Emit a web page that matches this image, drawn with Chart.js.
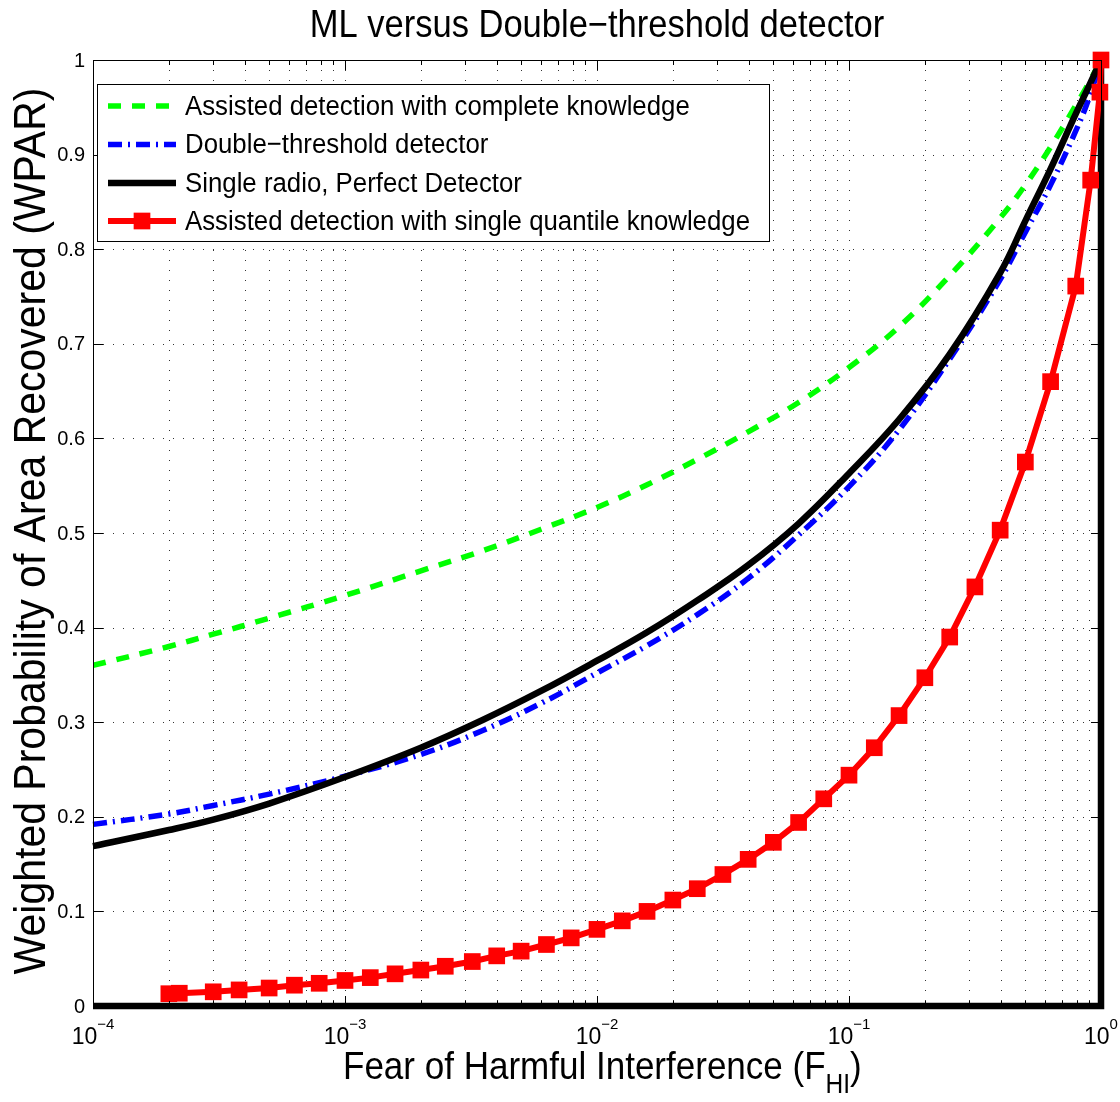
<!DOCTYPE html>
<html>
<head>
<meta charset="utf-8">
<title>ML versus Double-threshold detector</title>
<script src="https://cdn.jsdelivr.net/npm/chart.js@4.4.1/dist/chart.umd.min.js"></script>
<style>
  html, body { margin: 0; padding: 0; background: #fff; }
  canvas { display: block; }
</style>
</head>
<body>
<canvas id="wpar" width="1120" height="1102"></canvas>
<script>
// ---- values ----
var titleText = "ML versus Double\u2212threshold detector";
var xTitleMain = "Fear of Harmful Interference (F";
var xTitleSub = "HI";
var xTitleEnd = ")";
var yTitleText = "Weighted Probability of Area Recovered (WPAR)";

var seriesNames = [
  "Assisted detection with complete knowledge",
  "Double\u2212threshold detector",
  "Single radio, Perfect Detector",
  "Assisted detection with single quantile knowledge"
];

var xTickValues = [1e-4, 1e-3, 1e-2, 1e-1, 1];
var xTickExp = ["\u22124", "\u22123", "\u22122", "\u22121", "0"];
var yTickValues = [0, 0.1, 0.2, 0.3, 0.4, 0.5, 0.6, 0.7, 0.8, 0.9, 1];
var yTickLabels = ["0", "0.1", "0.2", "0.3", "0.4", "0.5", "0.6", "0.7", "0.8", "0.9", "1"];

// F_HI values where the smooth curves were read
var curveF = [1e-4, 2e-4, 3e-4, 5e-4, 1e-3, 2e-3, 3.5e-3, 6e-3, 1e-2, 0.0158, 0.0251,
              0.0398, 0.0631, 0.1, 0.158, 0.251, 0.398, 0.501, 0.631, 0.794, 0.891, 1];
var completeWPAR = [0.360, 0.380, 0.393, 0.410, 0.434, 0.460, 0.481, 0.504, 0.527, 0.551, 0.578,
                    0.607, 0.638, 0.675, 0.718, 0.772, 0.833, 0.868, 0.908, 0.952, 0.975, 1.0];
var doubleWPAR   = [0.192, 0.203, 0.212, 0.224, 0.243, 0.266, 0.291, 0.320, 0.352, 0.381, 0.414,
                    0.452, 0.498, 0.549, 0.609, 0.684, 0.768, 0.818, 0.868, 0.925, 0.958, 1.0];
var singleWPAR   = [0.169, 0.186, 0.197, 0.214, 0.242, 0.273, 0.302, 0.333, 0.365, 0.395, 0.429,
                    0.466, 0.510, 0.563, 0.620, 0.689, 0.775, 0.830, 0.885, 0.943, 0.971, 1.0];
// the double-threshold and single-radio curves drop down at F=1 and run back along zero
var tailF = [1, 1, 1e-4];
var tailWPAR = [1, 0, 0];

var quantileF = [2e-4, 2.2e-4, 3e-4, 3.8e-4, 5e-4, 6.3e-4, 7.9e-4, 1e-3, 1.26e-3, 1.58e-3, 2e-3, 2.5e-3,
                 3.2e-3, 4e-3, 5e-3, 6.3e-3, 7.9e-3, 1e-2, 1.26e-2, 1.58e-2, 2e-2, 2.5e-2, 3.16e-2, 3.98e-2,
                 5.01e-2, 6.31e-2, 7.94e-2, 0.1, 0.126, 0.158, 0.2, 0.251, 0.316, 0.398, 0.501, 0.631,
                 0.794, 0.91, 0.99, 1.0];
var quantileWPAR = [0.013, 0.0135, 0.015, 0.017, 0.019, 0.022, 0.024, 0.027, 0.030, 0.034, 0.038, 0.042,
                    0.047, 0.053, 0.058, 0.065, 0.072, 0.081, 0.090, 0.100, 0.112, 0.124, 0.139, 0.155,
                    0.173, 0.194, 0.219, 0.244, 0.273, 0.307, 0.347, 0.390, 0.443, 0.503, 0.575, 0.660,
                    0.761, 0.873, 0.966, 1.0];

var FONT = "'Liberation Sans', Arial, Helvetica, sans-serif";
var STRETCH = 1.1; // MATLAB's Helvetica renders a bit taller than Liberation Sans

function pts(xs, ys) {
  return xs.map(function (x, i) { return { x: x, y: ys[i] }; });
}

function fitSize(ctx, text, target) {
  ctx.font = "100px " + FONT;
  return 100 * target / ctx.measureText(text).width;
}

function tallText(ctx, text, x, y) {
  ctx.save();
  ctx.translate(x, y);
  ctx.scale(1, STRETCH);
  ctx.fillText(text, 0, 0);
  ctx.restore();
}

function hline(ctx, x1, x2, y) { ctx.beginPath(); ctx.moveTo(x1, y); ctx.lineTo(x2, y); ctx.stroke(); }
function vline(ctx, x, y1, y2) { ctx.beginPath(); ctx.moveTo(x, y1); ctx.lineTo(x, y2); ctx.stroke(); }

// grid positions on the log axis: 1..9 times each decade
function logGridValues() {
  var out = [];
  for (var e = -4; e < 0; e++) {
    for (var m = 1; m <= 9; m++) out.push(m * Math.pow(10, e));
  }
  out.push(1);
  return out;
}

// MATLAB-like frame: dotted grid, boxed axes with inward ticks, labels and legend
var matlabFrame = {
  id: "matlabFrame",
  beforeDatasetsDraw: function (chart) {
    var ctx = chart.ctx, a = chart.chartArea, xs = chart.scales.x, ys = chart.scales.y;
    ctx.save();
    ctx.strokeStyle = "rgba(30,30,30,0.9)";
    ctx.lineWidth = 1;
    ctx.setLineDash([1, 9]);
    logGridValues().forEach(function (v) {
      var px = Math.round(xs.getPixelForValue(v)) + 0.5;
      vline(ctx, px, a.top, a.bottom);
    });
    yTickValues.forEach(function (v) {
      var py = Math.round(ys.getPixelForValue(v)) + 0.5;
      hline(ctx, a.left, a.right, py);
    });
    ctx.restore();
  },
  afterDatasetsDraw: function (chart) {
    var ctx = chart.ctx, a = chart.chartArea, xs = chart.scales.x, ys = chart.scales.y;
    ctx.save();
    ctx.setLineDash([]);
    ctx.strokeStyle = "#000";
    ctx.lineWidth = 1;
    ctx.strokeRect(Math.round(a.left) + 0.5, Math.round(a.top) + 0.5,
                   Math.round(a.right - a.left), Math.round(a.bottom - a.top));

    // ticks on all four sides, pointing in
    logGridValues().forEach(function (v) {
      var px = Math.round(xs.getPixelForValue(v)) + 0.5;
      var major = xTickValues.indexOf(v) >= 0;
      var len = major ? 10 : 5;
      vline(ctx, px, a.bottom, a.bottom - len);
      vline(ctx, px, a.top, a.top + len);
    });
    yTickValues.forEach(function (v) {
      var py = Math.round(ys.getPixelForValue(v)) + 0.5;
      hline(ctx, a.left, a.left + 10, py);
      hline(ctx, a.right, a.right - 10, py);
    });

    ctx.fillStyle = "#000";
    // y tick labels
    ctx.font = "20px " + FONT;
    ctx.textAlign = "right";
    ctx.textBaseline = "middle";
    yTickValues.forEach(function (v, i) {
      ctx.fillText(yTickLabels[i], a.left - 8, ys.getPixelForValue(v) + 1);
    });

    // x tick labels: 10 with a superscript exponent
    ctx.textAlign = "left";
    ctx.textBaseline = "alphabetic";
    xTickValues.forEach(function (v, i) {
      var px = xs.getPixelForValue(v);
      ctx.font = "23px " + FONT;
      var wb = ctx.measureText("10").width;
      ctx.font = "15px " + FONT;
      var we = ctx.measureText(xTickExp[i]).width;
      var x0 = px - (wb + we) / 2;
      ctx.font = "23px " + FONT;
      ctx.fillText("10", x0, 1044);
      ctx.font = "15px " + FONT;
      ctx.fillText(xTickExp[i], x0 + wb, 1029);
    });

    // title
    var ts = fitSize(ctx, titleText, 575);
    ctx.font = ts + "px " + FONT;
    ctx.textAlign = "center";
    tallText(ctx, titleText, (a.left + a.right) / 2, 37);

    // x axis title with subscript
    ctx.textAlign = "left";
    ctx.font = "100px " + FONT;
    var wMain = ctx.measureText(xTitleMain).width + ctx.measureText(xTitleEnd).width;
    ctx.font = "70px " + FONT;
    var wSub = ctx.measureText(xTitleSub).width;
    var xsz = 100 * 519 / (wMain + wSub);
    ctx.font = xsz + "px " + FONT;
    var cx = 343;
    tallText(ctx, xTitleMain, cx, 1079);
    cx += ctx.measureText(xTitleMain).width;
    ctx.font = (xsz * 0.7) + "px " + FONT;
    tallText(ctx, xTitleSub, cx, 1093);
    cx += ctx.measureText(xTitleSub).width;
    ctx.font = xsz + "px " + FONT;
    tallText(ctx, xTitleEnd, cx, 1079);

    // y axis title
    var ysz = fitSize(ctx, yTitleText, 887);
    ctx.save();
    ctx.translate(45, 531);
    ctx.rotate(-Math.PI / 2);
    ctx.font = ysz + "px " + FONT;
    ctx.textAlign = "center";
    tallText(ctx, yTitleText, 0, 0);
    ctx.restore();

    // legend
    var lx = 97.5, ly = 84.5, lw = 672, lh = 157;
    ctx.fillStyle = "#fff";
    ctx.fillRect(lx, ly, lw, lh);
    ctx.strokeStyle = "#000";
    ctx.lineWidth = 1;
    ctx.strokeRect(lx, ly, lw, lh);
    var lsz = fitSize(ctx, seriesNames[0], 505);
    var rows = [106, 144.5, 183, 221];
    var order = [5, 4, 2, 0]; // dataset index for each legend row
    rows.forEach(function (ry, r) {
      var ds = chart.data.datasets[order[r]];
      ctx.save();
      ctx.strokeStyle = ds.borderColor;
      ctx.lineWidth = ds.borderWidth;
      ctx.setLineDash(ds.borderDash || []);
      hline(ctx, 108, 176, ry);
      ctx.restore();
      if (ds.pointRadius) {
        var s = ds.pointRadius * Math.SQRT1_2;
        ctx.fillStyle = ds.pointBackgroundColor;
        ctx.fillRect(142 - s, ry - s, 2 * s, 2 * s);
      }
      ctx.fillStyle = "#000";
      ctx.font = lsz + "px " + FONT;
      ctx.textAlign = "left";
      ctx.textBaseline = "middle";
      tallText(ctx, seriesNames[r], 185, ry + 1);
    });
    ctx.restore();
  }
};

var blueDash = [14, 6, 2, 6];

var chart = new Chart(document.getElementById("wpar"), {
  type: "line",
  data: {
    datasets: [
      {
        label: seriesNames[3],
        data: pts(quantileF, quantileWPAR),
        borderColor: "#ff0000",
        borderWidth: 6,
        pointStyle: "rect",
        pointRadius: 11.8,
        pointBorderWidth: 0,
        pointBackgroundColor: "#ff0000",
        order: 0,
        clip: false
      },
      {
        label: "",
        data: pts(tailF, tailWPAR),
        borderColor: "#000000",
        borderWidth: 6.5,
        pointRadius: 0,
        order: 1,
        clip: false
      },
      {
        label: seriesNames[2],
        data: pts(curveF, singleWPAR),
        borderColor: "#000000",
        borderWidth: 6.5,
        tension: 0.4,
        pointRadius: 0,
        order: 1,
        clip: false
      },
      {
        label: "",
        data: pts(tailF, tailWPAR),
        borderColor: "#0000ff",
        borderWidth: 5.5,
        borderDash: blueDash,
        pointRadius: 0,
        order: 2,
        clip: false
      },
      {
        label: seriesNames[1],
        data: pts(curveF, doubleWPAR),
        borderColor: "#0000ff",
        borderWidth: 5.5,
        borderDash: blueDash,
        tension: 0.4,
        pointRadius: 0,
        order: 2,
        clip: false
      },
      {
        label: seriesNames[0],
        data: pts(curveF, completeWPAR),
        borderColor: "#00ff00",
        borderWidth: 5.5,
        borderDash: [13, 11],
        tension: 0.4,
        pointRadius: 0,
        order: 3
      }
    ]
  },
  options: {
    responsive: false,
    animation: false,
    devicePixelRatio: 1,
    layout: { padding: { left: 93, right: 19, top: 60, bottom: 96 } },
    plugins: {
      legend: { display: false },
      title: { display: false },
      tooltip: { enabled: false }
    },
    scales: {
      x: { type: "logarithmic", min: 1e-4, max: 1, display: false },
      y: { type: "linear", min: 0, max: 1, display: false }
    }
  },
  plugins: [matlabFrame]
});
</script>
</body>
</html>
